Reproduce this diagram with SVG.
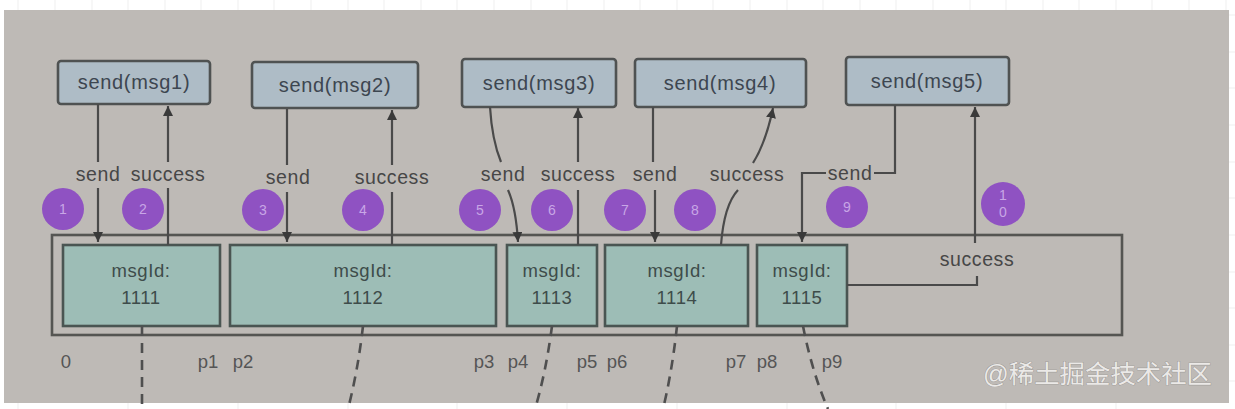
<svg xmlns="http://www.w3.org/2000/svg" width="1235" height="409" viewBox="0 0 1235 409">
<defs>
<style>
.bg{fill:#ffffff}
.grid{stroke:#efefef;stroke-width:1}
.panel{fill:#bebab6}
.op{fill:#aebcc6;stroke:#4f5252;stroke-width:2.6}
.optext{font-family:"Liberation Sans",Arial,sans-serif;font-size:20px;letter-spacing:0.7px;fill:#3d4650;text-anchor:middle}
.frame{fill:none;stroke:#555552;stroke-width:2.6}
.msg{fill:#9dbdb6;stroke:#4a5552;stroke-width:2.6}
.msgtext{font-family:"Liberation Sans",Arial,sans-serif;font-size:18.5px;letter-spacing:0.6px;fill:#3e4c4a;text-anchor:middle}
.edge{fill:none;stroke:#4a4a4a;stroke-width:2.2}
.lbl{font-family:"Liberation Sans",Arial,sans-serif;font-size:19.5px;letter-spacing:0.6px;fill:#474747;text-anchor:middle}
.step{fill:#8f52c2}
.stepnum{font-family:"Liberation Sans",Arial,sans-serif;font-size:14px;fill:#c8a6e6;text-anchor:middle}
.dash{fill:none;stroke:#4f4f4f;stroke-width:2.6;stroke-dasharray:10 7}
.pos{font-family:"Liberation Sans",Arial,sans-serif;font-size:18.5px;fill:#555;text-anchor:middle}
.wm{font-family:"Liberation Sans","Noto Sans CJK SC",sans-serif;font-size:25px;fill:#ebe9e7;stroke:#8f8c89;stroke-width:0.7;paint-order:stroke}
</style>
<marker id="arr" viewBox="0 0 10 10" refX="10" refY="5" markerWidth="10" markerHeight="10" markerUnits="userSpaceOnUse" orient="auto">
<path d="M0,0 L10,5 L0,10 z" fill="#3a3a3a"/>
</marker>
</defs>
<rect class="bg" x="0" y="0" width="1235" height="409"/>
<g id="grid">
<path class="grid" d="M18,0V10M55,0V10M92,0V10M128,0V10M165,0V10M201,0V10M238,0V10M274,0V10M311,0V10M348,0V10M384,0V10M421,0V10M457,0V10M494,0V10M531,0V10M567,0V10M604,0V10M640,0V10M677,0V10M713,0V10M750,0V10M787,0V10M823,0V10M860,0V10M896,0V10M933,0V10M970,0V10M1006,0V10M1043,0V10M1079,0V10M1116,0V10M1152,0V10M1189,0V10M1226,0V10"/>
<path class="grid" d="M18,403V409M128,403V409M238,403V409M348,403V409M457,403V409M567,403V409M677,403V409M787,403V409M896,403V409M1006,403V409M1116,403V409"/>
<path class="grid" d="M1229,15H1235M1229,52H1235M1229,88H1235M1229,125H1235M1229,162H1235M1229,198H1235M1229,235H1235M1229,272H1235M1229,308H1235M1229,345H1235M1229,381H1235"/>
</g>
<rect class="panel" x="4" y="10" width="1225" height="393"/>

<g id="queue">
<rect class="frame" x="52" y="235" width="1070" height="100"/>
</g>

<g id="op1"><rect class="op" x="58" y="61" width="152" height="43" rx="3"/><text class="optext" x="134" y="89">send(msg1)</text></g>
<g id="op2"><rect class="op" x="252" y="62" width="166" height="46" rx="3"/><text class="optext" x="335" y="92">send(msg2)</text></g>
<g id="op3"><rect class="op" x="462" y="59" width="154" height="48" rx="3"/><text class="optext" x="539" y="90">send(msg3)</text></g>
<g id="op4"><rect class="op" x="635" y="59" width="171" height="48" rx="3"/><text class="optext" x="720" y="90">send(msg4)</text></g>
<g id="op5"><rect class="op" x="846" y="57" width="163" height="48" rx="3"/><text class="optext" x="927" y="88">send(msg5)</text></g>

<g id="m1111"><rect class="msg" x="63" y="245" width="157" height="81"/><text class="msgtext" x="141" y="277">msgId:</text><text class="msgtext" x="141" y="304">1111</text></g>
<g id="m1112"><rect class="msg" x="230" y="245" width="266" height="81"/><text class="msgtext" x="363" y="277">msgId:</text><text class="msgtext" x="363" y="304">1112</text></g>
<g id="m1113"><rect class="msg" x="507" y="245" width="90" height="81"/><text class="msgtext" x="552" y="277">msgId:</text><text class="msgtext" x="552" y="304">1113</text></g>
<g id="m1114"><rect class="msg" x="605" y="245" width="143" height="81"/><text class="msgtext" x="677" y="277">msgId:</text><text class="msgtext" x="677" y="304">1114</text></g>
<g id="m1115"><rect class="msg" x="757" y="245" width="90" height="81"/><text class="msgtext" x="802" y="277">msgId:</text><text class="msgtext" x="802" y="304">1115</text></g>

<g id="connectors">
<path class="edge" d="M98,104V162"/><path class="edge" d="M98,188V242" marker-end="url(#arr)"/>
<path class="edge" d="M168,245V188"/><path class="edge" d="M168,162V106" marker-end="url(#arr)"/>
<path class="edge" d="M287,109V165"/><path class="edge" d="M287,192V242" marker-end="url(#arr)"/>
<path class="edge" d="M392,245V192"/><path class="edge" d="M392,165V110" marker-end="url(#arr)"/>
<path class="edge" d="M490,107Q492,140 501,162"/><path class="edge" d="M508,190Q516,208 518,242" marker-end="url(#arr)"/>
<path class="edge" d="M578,245V190"/><path class="edge" d="M578,162V108" marker-end="url(#arr)"/>
<path class="edge" d="M653,107V162"/><path class="edge" d="M655,190V242" marker-end="url(#arr)"/>
<path class="edge" d="M721,245Q724,205 738,190"/><path class="edge" d="M753,163Q766,142 773,108" marker-end="url(#arr)"/>
<path class="edge" d="M895,105V173H874"/><path class="edge" d="M826,173H802V242" marker-end="url(#arr)"/>
<path class="edge" d="M847,285H977V276"/><path class="edge" d="M975,243V107" marker-end="url(#arr)"/>
<path class="dash" d="M142,326V409"/>
<path class="dash" d="M363,326Q358,370 348,409"/>
<path class="dash" d="M552,326Q546,372 535,409"/>
<path class="dash" d="M677,326Q672,372 663,409"/>
<path class="dash" d="M803,326Q812,372 828,409"/>
</g>

<g id="labels">
<text class="lbl" x="98" y="181">send</text>
<text class="lbl" x="168" y="181">success</text>
<text class="lbl" x="288" y="184">send</text>
<text class="lbl" x="392" y="184">success</text>
<text class="lbl" x="503" y="181">send</text>
<text class="lbl" x="578" y="181">success</text>
<text class="lbl" x="655" y="181">send</text>
<text class="lbl" x="747" y="181">success</text>
<text class="lbl" x="850" y="180">send</text>
<text class="lbl" x="977" y="266">success</text>
</g>

<g id="steps">
<g id="s1"><circle class="step" cx="63" cy="209" r="21"/><text class="stepnum" x="63" y="214">1</text></g>
<g id="s2"><circle class="step" cx="143" cy="209" r="21"/><text class="stepnum" x="143" y="214">2</text></g>
<g id="s3"><circle class="step" cx="263" cy="210" r="21"/><text class="stepnum" x="263" y="215">3</text></g>
<g id="s4"><circle class="step" cx="363" cy="210" r="21"/><text class="stepnum" x="363" y="215">4</text></g>
<g id="s5"><circle class="step" cx="480" cy="210" r="21"/><text class="stepnum" x="480" y="215">5</text></g>
<g id="s6"><circle class="step" cx="552" cy="210" r="21"/><text class="stepnum" x="552" y="215">6</text></g>
<g id="s7"><circle class="step" cx="625" cy="210" r="21"/><text class="stepnum" x="625" y="215">7</text></g>
<g id="s8"><circle class="step" cx="695" cy="210" r="21"/><text class="stepnum" x="695" y="215">8</text></g>
<g id="s9"><circle class="step" cx="847" cy="207" r="21"/><text class="stepnum" x="847" y="212">9</text></g>
<g id="s10"><circle class="step" cx="1003" cy="204" r="22"/><text class="stepnum" x="1003" y="200">1</text><text class="stepnum" x="1003" y="217">0</text></g>
</g>

<g id="positions">
<text class="pos" x="66" y="368">0</text>
<text class="pos" x="208" y="368">p1</text>
<text class="pos" x="243" y="368">p2</text>
<text class="pos" x="484" y="368">p3</text>
<text class="pos" x="518" y="368">p4</text>
<text class="pos" x="587" y="368">p5</text>
<text class="pos" x="617" y="368">p6</text>
<text class="pos" x="736" y="368">p7</text>
<text class="pos" x="767" y="368">p8</text>
<text class="pos" x="832" y="368">p9</text>
</g>

<text class="wm" x="983" y="383" textLength="229" lengthAdjust="spacingAndGlyphs">@稀土掘金技术社区</text>
</svg>
